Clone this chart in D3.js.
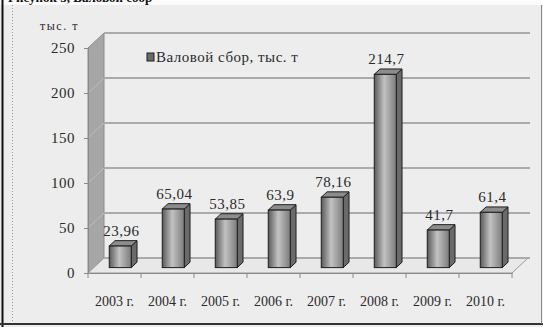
<!DOCTYPE html>
<html>
<head>
<meta charset="utf-8">
<script src="https://cdn.jsdelivr.net/npm/d3@7"></script>
<style>
  body { margin: 0; background: #ededed; }
  text { font-family: 'Liberation Serif', 'Times New Roman', serif; fill: #2a2a2a; }
</style>
</head>
<body>
<script>
const years = ['2003 г.', '2004 г.', '2005 г.', '2006 г.', '2007 г.', '2008 г.', '2009 г.', '2010 г.'];
const harvest = [23.96, 65.04, 53.85, 63.9, 78.16, 214.7, 41.7, 61.4];
const yTicks = [0, 50, 100, 150, 200, 250];
const seriesName = 'Валовой сбор, тыс. т';
const unitLabel = 'тыс. т';
const captionText = 'Рисунок 3, Валовой сбор';

const width = 543, height = 327;
const plot = { left: 88, right: 512, top: 48, bottom: 273 };
const depth = { dx: 16, dy: -15 };
// bars sit between these fractions of the floor depth
const f0 = 0.36, f1 = 0.72;
const serif = "'Liberation Serif', 'Times New Roman', serif";

const svg = d3.select('body')
    .append('svg')
    .attr('width', width)
    .attr('height', height);

const defs = svg.append('defs');
const grad = defs.append('linearGradient').attr('id', 'barFront').attr('x1', 0).attr('x2', 1).attr('y1', 0).attr('y2', 0);
grad.append('stop').attr('offset', 0).attr('stop-color', '#5a5a5a');
grad.append('stop').attr('offset', 0.45).attr('stop-color', '#c2c2c2');
grad.append('stop').attr('offset', 1).attr('stop-color', '#7c7c7c');

//background and page frame
svg.append('rect').attr('width', width).attr('height', height).attr('fill', '#ededed');
svg.append('rect').attr('width', width).attr('height', 5).attr('fill', '#fbfbfb');
svg.append('text')
    .attr('x', 8).attr('y', 2)
    .style('font-size', '13px').style('font-weight', 700)
    .style('fill', '#111')
    .text(captionText);
svg.append('line').attr('x1', 2.5).attr('x2', 2.5).attr('y1', 0).attr('y2', height).attr('stroke', '#111').attr('stroke-width', 2);
svg.append('line').attr('x1', 12.5).attr('x2', 12.5).attr('y1', 5).attr('y2', 323).attr('stroke', '#999').attr('stroke-dasharray', '1,2');
svg.append('line').attr('x1', 0).attr('x2', width).attr('y1', 324).attr('y2', 324).attr('stroke', '#333').attr('stroke-width', 2);
svg.append('line').attr('x1', 541.5).attr('x2', 541.5).attr('y1', 5).attr('y2', 324).attr('stroke', '#888');

//scales
const x = d3.scaleBand().domain(years).range([plot.left, plot.right]);
const y = d3.scaleLinear().domain([0, 250]).range([plot.bottom, plot.top]);

//side wall
svg.append('polygon')
    .attr('points', [
        [plot.left, y(0)], [plot.left, y(250)],
        [plot.left + depth.dx, y(250) + depth.dy], [plot.left + depth.dx, y(0) + depth.dy]
    ].join(' '))
    .attr('fill', '#a6a6a6')
    .attr('stroke', '#8c8c8c');

svg.append('g').selectAll('line')
    .data(yTicks.slice(1, -1))
    .enter().append('line')
    .attr('x1', plot.left).attr('y1', d => y(d))
    .attr('x2', plot.left + depth.dx).attr('y2', d => y(d) + depth.dy)
    .attr('stroke', '#bdbdbd');

//floor
svg.append('polygon')
    .attr('points', [
        [plot.left, y(0)], [plot.right, y(0)],
        [plot.right + depth.dx, y(0) + depth.dy], [plot.left + depth.dx, y(0) + depth.dy]
    ].join(' '))
    .attr('fill', '#e8e8e8')
    .attr('stroke', '#9a9a9a');

//back wall gridlines
svg.append('g').selectAll('line')
    .data(yTicks)
    .enter().append('line')
    .attr('x1', plot.left + depth.dx).attr('x2', plot.right + depth.dx + 2)
    .attr('y1', d => y(d) + depth.dy).attr('y2', d => y(d) + depth.dy)
    .attr('stroke', '#ababab')
    .attr('stroke-width', 2);

//y axis
const yAxis = d3.axisLeft(y).tickValues(yTicks).tickSize(4).tickPadding(9).tickFormat(d3.format('d'));
const yg = svg.append('g')
    .attr('transform', `translate(${plot.left},0)`)
    .call(yAxis)
    .attr('font-family', serif);
yg.select('.domain').attr('stroke', '#8a8a8a');
yg.selectAll('.tick line').attr('stroke', '#8a8a8a');
yg.selectAll('.tick text')
    .style('font-family', serif)
    .style('font-size', '15px')
    .style('letter-spacing', '0.5px')
    .style('fill', '#2a2a2a');

svg.append('text')
    .attr('x', 40).attr('y', 30)
    .style('font-size', '12px')
    .style('letter-spacing', '1.5px')
    .text(unitLabel);

//x axis
const xAxis = d3.axisBottom(x).tickSize(0).tickPadding(23);
const xg = svg.append('g')
    .attr('transform', `translate(0,${plot.bottom})`)
    .call(xAxis)
    .attr('font-family', serif);
xg.select('.domain').attr('stroke', '#8a8a8a');
xg.selectAll('.tick text')
    .style('font-family', serif)
    .style('font-size', '14px')
    .style('fill', '#2a2a2a');

svg.append('g').selectAll('line')
    .data(years.concat(['end']))
    .enter().append('line')
    .attr('x1', (d, i) => i < years.length ? x(d) : plot.right)
    .attr('x2', (d, i) => i < years.length ? x(d) : plot.right)
    .attr('y1', plot.bottom).attr('y2', plot.bottom + 5)
    .attr('stroke', '#8a8a8a');

//bars
const bw = 22;
const bdx = depth.dx * (f1 - f0), bdy = depth.dy * (f1 - f0);
const bars = harvest.map((v, i) => {
    const x0 = x(years[i]) + (x.bandwidth() - bw) / 2 + depth.dx * f0;
    return { v, x0, x1: x0 + bw, yb: y(0) + depth.dy * f0, yt: y(v) + depth.dy * f0 };
});

const barG = svg.append('g').selectAll('g')
    .data(bars)
    .enter().append('g');

barG.append('polygon')
    .attr('points', d => [[d.x1, d.yt], [d.x1 + bdx, d.yt + bdy], [d.x1 + bdx, d.yb + bdy], [d.x1, d.yb]].join(' '))
    .attr('fill', '#6a6a6a')
    .attr('stroke', '#1e1e1e');

barG.append('polygon')
    .attr('points', d => [[d.x0, d.yt], [d.x0 + bdx, d.yt + bdy], [d.x1 + bdx, d.yt + bdy], [d.x1, d.yt]].join(' '))
    .attr('fill', '#8c8c8c')
    .attr('stroke', '#1e1e1e');

barG.append('rect')
    .attr('x', d => d.x0).attr('y', d => d.yt)
    .attr('width', bw).attr('height', d => d.yb - d.yt)
    .attr('fill', 'url(#barFront)')
    .attr('stroke', '#1e1e1e');

barG.append('text')
    .attr('x', d => (d.x0 + d.x1) / 2 + 1)
    .attr('y', d => d.yt - 10)
    .attr('text-anchor', 'middle')
    .style('font-size', '15px')
    .style('letter-spacing', '0.5px')
    .text(d => String(d.v).replace('.', ','));

//legend
svg.append('rect')
    .attr('x', 147).attr('y', 53).attr('width', 7).attr('height', 8)
    .attr('fill', '#6a6a6a').attr('stroke', '#1e1e1e');
svg.append('text')
    .attr('x', 156).attr('y', 62)
    .style('font-size', '15px')
    .style('letter-spacing', '0.5px')
    .text(seriesName);
</script>
</body>
</html>
